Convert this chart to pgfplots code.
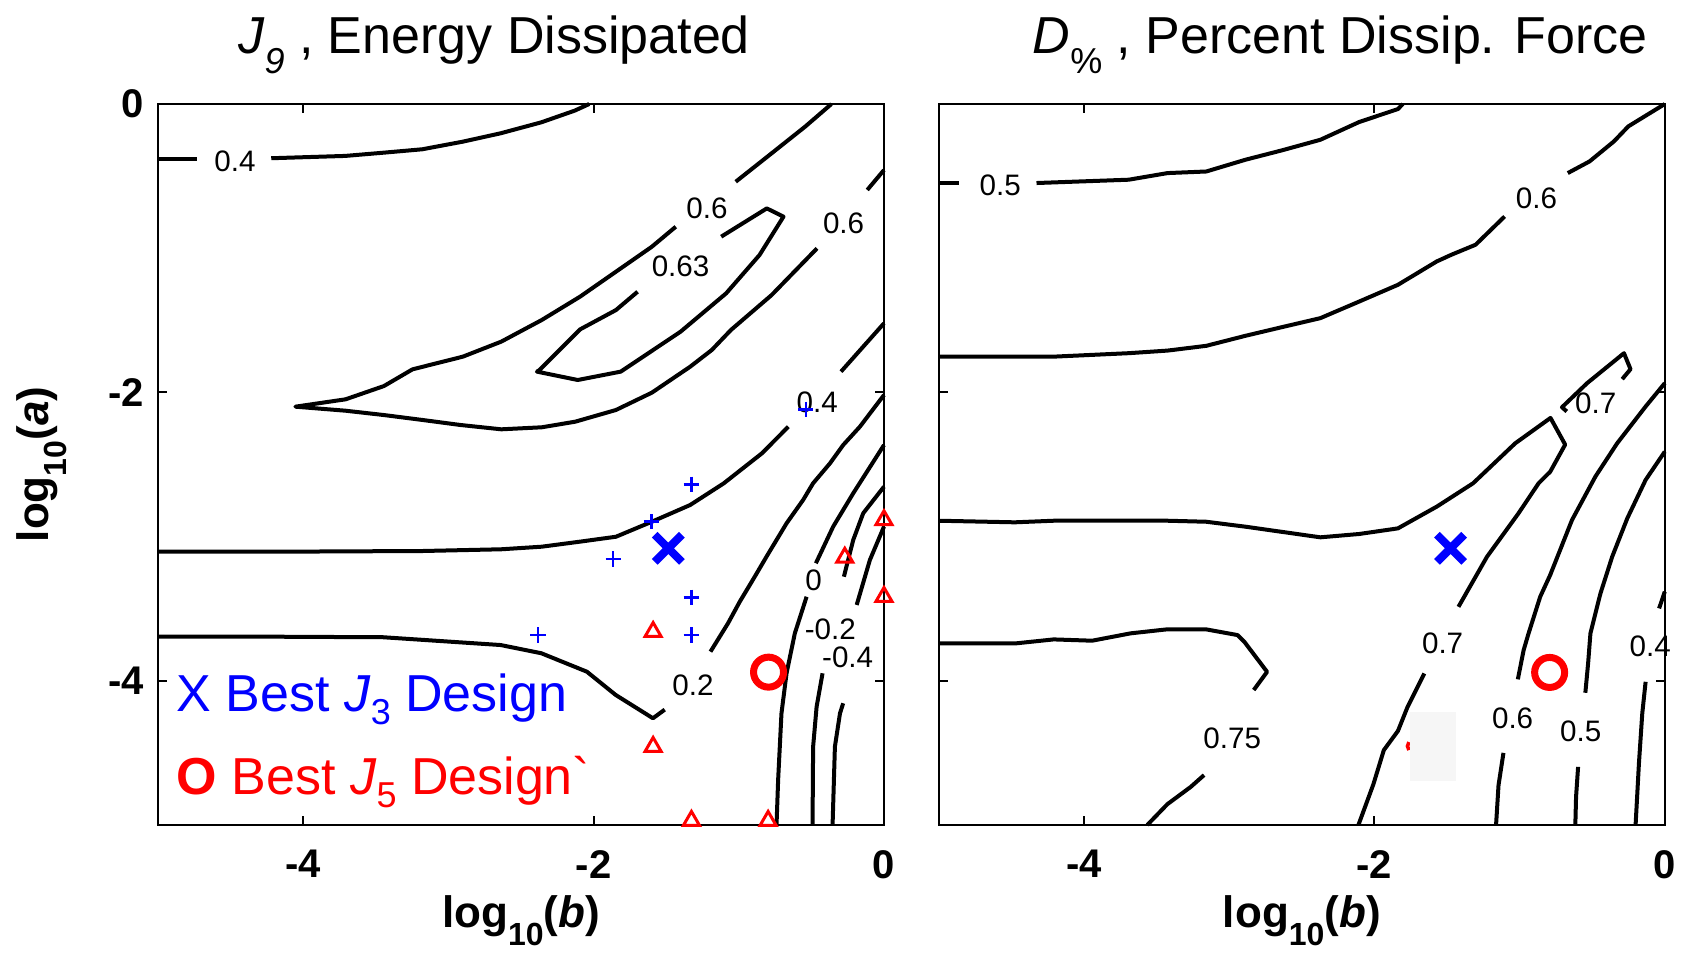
\documentclass[border=0pt]{standalone}
\usepackage{fontspec}
\setmainfont{Liberation Sans}
\usepackage{pgfplots}
\pgfplotsset{compat=1.18}
\definecolor{mblue}{RGB}{0,0,255}
\definecolor{mred}{RGB}{255,0,0}
\tikzset{cl/.style={black, line width=1.0pt, line join=round}}
\newcommand{\clab}{\fontsize{7.4}{7.4}\selectfont}
\newcommand{\sub}[1]{\raisebox{-4.5pt}{\fontsize{8}{8}\selectfont #1}}
\pgfplotsset{
  mystyle/.style={
    scale only axis, width=181.5pt, height=180.25pt,
    xmin=-5, xmax=0, ymin=-5, ymax=0,
    xtick={-4,-2,0}, ytick={-4,-2,0},
    xticklabels={-4,-2,0},
    tick align=inside, major tick length=2.2pt,
    axis line style={line width=0.6pt},
    every tick/.style={line width=0.5pt, black},
    ticklabel style={font=\fontsize{10}{10}\selectfont\bfseries},
    xticklabel style={yshift=-2.8pt},
    clip=false,
    xlabel={\textbf{log\sub{10}(\textit{b})}},
    xlabel style={at={(axis description cs:0.5,-0.1415)}, anchor=base, font=\fontsize{11}{11}\selectfont},
  }
}
\begin{document}
\begin{tikzpicture}
\path[use as bounding box] (0,0) rectangle (421.5pt,238.25pt);
% ================= LEFT =================
\begin{axis}[mystyle, at={(39.5pt,32pt)}, anchor=south west,
  yticklabels={-4,-2,0},
  ylabel={\textbf{log\sub{10}(\textit{a})}},
  ylabel style={at={(axis description cs:-0.1515,0.5)}, anchor=base, font=\fontsize{11}{11}\selectfont}]
% 0.4 top
\addplot[cl] coordinates {(-5,-0.38) (-4.73,-0.38)};
\addplot[cl] coordinates {(-4.22,-0.376) (-3.71,-0.36) (-3.44,-0.337) (-3.18,-0.314) (-2.90,-0.261) (-2.64,-0.203) (-2.36,-0.127) (-2.13,-0.046) (-2.03,0)};
% 0.6 outer
\addplot[cl] coordinates {(-1.434,-0.851) (-1.599,-0.990) (-1.846,-1.163) (-2.093,-1.336) (-2.357,-1.498) (-2.636,-1.648) (-2.900,-1.752) (-3.247,-1.840) (-3.444,-1.956) (-3.708,-2.048) (-4.054,-2.099) (-3.708,-2.127) (-3.444,-2.157) (-3.180,-2.191) (-2.917,-2.226) (-2.636,-2.256) (-2.357,-2.242) (-2.126,-2.203) (-1.846,-2.122) (-1.599,-2.002) (-1.335,-1.822) (-1.186,-1.706) (-1.054,-1.567) (-0.774,-1.325) (-0.461,-1.001)};
\addplot[cl] coordinates {(-0.115,-0.596) (0,-0.458)};
\addplot[cl] coordinates {(-1.021,-0.539) (-0.774,-0.342) (-0.543,-0.157) (-0.362,0)};
% 0.63 loop
\addplot[cl] coordinates {(-1.697,-1.302) (-1.846,-1.429) (-2.093,-1.563) (-2.373,-1.845) (-2.390,-1.856) (-2.109,-1.914) (-1.813,-1.856) (-1.401,-1.579) (-1.087,-1.313) (-0.857,-1.047) (-0.692,-0.781) (-0.807,-0.724) (-1.121,-0.920)};
% 0.4 lower
\addplot[cl] coordinates {(-5,-3.105) (-4.236,-3.105) (-3.180,-3.100) (-2.636,-3.088) (-2.357,-3.070) (-2.093,-3.035) (-1.846,-3.001) (-1.599,-2.897) (-1.335,-2.781) (-1.104,-2.631) (-0.840,-2.422) (-0.659,-2.238)};
\addplot[cl] coordinates {(-0.296,-1.856) (0,-1.521)};
% 0.2
\addplot[cl] coordinates {(-5,-3.694) (-4.241,-3.694) (-3.449,-3.698) (-2.640,-3.752) (-2.360,-3.809) (-2.046,-3.937) (-1.848,-4.098) (-1.591,-4.26) (-1.51,-4.20)};
\addplot[cl] coordinates {(-1.195,-3.798) (-1.074,-3.601) (-0.993,-3.451) (-0.890,-3.278) (-0.809,-3.139) (-0.671,-2.908) (-0.557,-2.746) (-0.488,-2.630) (-0.372,-2.492) (-0.281,-2.365) (-0.166,-2.238) (0,-2.018)};
% 0
\addplot[cl] coordinates {(-0.740,-5) (-0.729,-4.688) (-0.706,-4.226) (-0.671,-3.948) (-0.614,-3.671) (-0.533,-3.417)};
\addplot[cl] coordinates {(-0.469,-3.185) (-0.350,-2.931) (-0.212,-2.700) (0,-2.365)};
% -0.2
\addplot[cl] coordinates {(-0.492,-5) (-0.488,-4.457) (-0.464,-4.180) (-0.423,-3.948)};
\addplot[cl] coordinates {(-0.276,-3.278) (-0.212,-3.024) (-0.143,-2.838) (0,-2.654)};
% -0.4
\addplot[cl] coordinates {(-0.354,-5) (-0.338,-4.457) (-0.303,-4.226) (-0.281,-4.156)};
\addplot[cl] coordinates {(-0.188,-3.474) (-0.097,-3.162) (0,-2.931)};
% markers
\addplot[only marks, mark=+, mark size=1.9pt, mblue, line width=0.65pt] coordinates {(-0.538,-2.117) (-1.327,-2.637) (-1.601,-2.897) (-1.865,-3.155) (-1.327,-3.421) (-1.327,-3.682) (-2.383,-3.682)};
\addplot[only marks, mark=triangle, mark size=2.3pt, mred, line width=0.75pt] coordinates {(-1.59,-3.66) (-1.59,-4.457) (-1.326,-4.97) (-0.798,-4.97) (0,-2.885) (-0.27,-3.145) (0,-3.417)};
\addplot[only marks, mark=x, mark size=4.8pt, mblue, line width=2pt] coordinates {(-1.485,-3.081)};
\addplot[only marks, mark=o, mark size=3.75pt, mred, line width=1.75pt] coordinates {(-0.795,-3.94)};
% contour labels
\node[font=\clab] at (axis cs:-4.47,-0.40) {0.4};
\node[font=\clab] at (axis cs:-1.219,-0.72) {0.6};
\node[font=\clab] at (axis cs:-0.278,-0.825) {0.6};
\node[font=\clab] at (axis cs:-1.401,-1.128) {0.63};
\node[font=\clab] at (axis cs:-0.46,-2.07) {0.4};
\node[font=\clab] at (axis cs:-0.485,-3.303) {0};
\node[font=\clab] at (axis cs:-0.37,-3.64) {-0.2};
\node[font=\clab] at (axis cs:-0.25,-3.84) {-0.4};
\node[font=\clab] at (axis cs:-1.315,-4.03) {0.2};
% legend text
\node[anchor=base west, inner sep=0pt, text=mblue, font=\fontsize{13}{13}\selectfont] at (axis cs:-4.876,-4.216) {X Best \textit{J}\raisebox{-3.2pt}{\fontsize{9}{9}\selectfont 3} Design};
\node[anchor=base west, inner sep=0pt, text=mred, font=\fontsize{13}{13}\selectfont] at (axis cs:-4.876,-4.792) {\textbf{O} Best \textit{J}\raisebox{-3.2pt}{\fontsize{9}{9}\selectfont 5} Design\textasciigrave};
% title
\node[anchor=base, font=\fontsize{13}{13}\selectfont] at (rel axis cs:0.463,1.0707) {\textit{J}\raisebox{-5pt}{\fontsize{9}{9}\selectfont\itshape 9} , Energy Dissipated};
\end{axis}
% ================= RIGHT =================
\begin{axis}[mystyle, at={(234.7pt,32pt)}, anchor=south west,
  yticklabels={,,}]
% 0.5 top
\addplot[cl] coordinates {(-5,-0.548) (-4.861,-0.548)};
\addplot[cl] coordinates {(-4.327,-0.548) (-3.692,-0.525) (-3.424,-0.479) (-3.158,-0.468) (-2.890,-0.387) (-2.639,-0.322) (-2.372,-0.248) (-2.105,-0.125) (-1.838,-0.035) (-1.804,0)};
% 0.6 top
\addplot[cl] coordinates {(-5,-1.752) (-4.208,-1.752) (-3.691,-1.728) (-3.424,-1.710) (-3.158,-1.677) (-2.890,-1.608) (-2.639,-1.548) (-2.372,-1.485) (-2.105,-1.370) (-1.838,-1.254) (-1.571,-1.092) (-1.471,-1.046) (-1.303,-0.976) (-1.103,-0.780)};
\addplot[cl] coordinates {(-0.668,-0.479) (-0.518,-0.398) (-0.351,-0.260) (-0.251,-0.155) (0,0)};
% 0.7 main
\addplot[cl] coordinates {(-5,-2.890) (-4.477,-2.901) (-4.209,-2.890) (-3.424,-2.890) (-3.158,-2.897) (-2.890,-2.931) (-2.372,-3.005) (-2.105,-2.982) (-1.838,-2.943) (-1.570,-2.792) (-1.320,-2.630) (-1.030,-2.353) (-0.787,-2.177) (-0.686,-2.362) (-0.789,-2.550) (-0.869,-2.630) (-1.007,-2.838) (-1.224,-3.139) (-1.421,-3.487)};
\addplot[cl] coordinates {(-1.656,-3.949) (-1.771,-4.180) (-1.838,-4.348) (-1.935,-4.481) (-2.007,-4.718) (-2.11,-5)};
% 0.7 hook
\addplot[cl] coordinates {(-0.675,-2.132) (-0.708,-2.103) (-0.535,-1.936) (-0.281,-1.728) (-0.236,-1.839) (-0.293,-1.908)};
% 0.6 lower
\addplot[cl] coordinates {(0,-1.936) (-0.132,-2.098) (-0.328,-2.353) (-0.478,-2.584) (-0.639,-2.885) (-0.789,-3.266) (-0.858,-3.417) (-0.938,-3.671) (-0.972,-3.787) (-1.012,-3.990)};
\addplot[cl] coordinates {(-1.111,-4.500) (-1.145,-4.724) (-1.162,-5)};
% 0.5 lower
\addplot[cl] coordinates {(0,-2.411) (-0.132,-2.607) (-0.258,-2.873) (-0.362,-3.139) (-0.443,-3.394) (-0.512,-3.671) (-0.528,-3.879) (-0.547,-4.083)};
\addplot[cl] coordinates {(-0.597,-4.597) (-0.611,-4.805) (-0.616,-5)};
% 0.4
\addplot[cl] coordinates {(0,-3.382) (-0.039,-3.498)};
\addplot[cl] coordinates {(-0.132,-4.007) (-0.155,-4.226) (-0.178,-4.573) (-0.201,-5)};
% 0.75
\addplot[cl] coordinates {(-5,-3.741) (-4.739,-3.741) (-4.474,-3.741) (-4.209,-3.713) (-3.944,-3.722) (-3.679,-3.671) (-3.426,-3.643) (-3.161,-3.643) (-2.942,-3.683) (-2.896,-3.729) (-2.739,-3.938) (-2.831,-4.064)};
\addplot[cl] coordinates {(-3.173,-4.654) (-3.265,-4.736) (-3.426,-4.856) (-3.564,-5)};
% partly hidden red marker edge and grey patch
\addplot[mred, line width=0.9pt] coordinates {(-1.762,-4.425) (-1.772,-4.453) (-1.762,-4.481)};
\addplot[fill=gray!7, draw=none] coordinates {(-1.753,-4.216) (-1.441,-4.216) (-1.441,-4.694) (-1.753,-4.694)};
% markers
\addplot[only marks, mark=x, mark size=4.8pt, mblue, line width=2pt] coordinates {(-1.475,-3.081)};
\addplot[only marks, mark=o, mark size=3.75pt, mred, line width=1.75pt] coordinates {(-0.793,-3.942)};
% labels
\node[font=\clab] at (axis cs:-4.577,-0.567) {0.5};
\node[font=\clab] at (axis cs:-0.884,-0.657) {0.6};
\node[font=\clab] at (axis cs:-0.475,-2.075) {0.7};
\node[font=\clab] at (axis cs:-1.530,-3.739) {0.7};
\node[font=\clab] at (axis cs:-2.979,-4.396) {0.75};
\node[font=\clab] at (axis cs:-1.048,-4.261) {0.6};
\node[font=\clab] at (axis cs:-0.579,-4.351) {0.5};
\node[font=\clab] at (axis cs:-0.10,-3.761) {0.4};
% title
\node[anchor=base, font=\fontsize{13}{13}\selectfont] at (rel axis cs:0.553,1.0707) {\textit{D}\raisebox{-5pt}{\fontsize{9}{9}\selectfont\%} , Percent Dissip. Force};
\end{axis}
\end{tikzpicture}
\end{document}
